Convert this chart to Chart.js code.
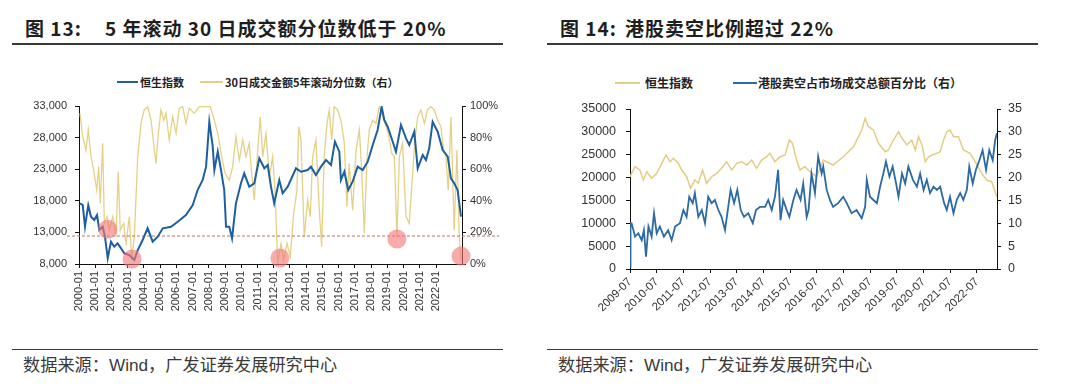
<!DOCTYPE html>
<html>
<head>
<meta charset="utf-8">
<script src="https://cdn.jsdelivr.net/npm/chart.js@4.4.1/dist/chart.umd.min.js"></script>
<style>
  body { margin: 0; width: 1080px; height: 390px; background: #fff; position: relative; overflow: hidden; }
  .abs { position: absolute; white-space: pre; }
  .title { font-family: "Noto Sans CJK SC", sans-serif; font-weight: 700; font-size: 19px; letter-spacing: 1px; color: #1e1e1e; line-height: 22px; }
  .rule { height: 1.5px; background: #3a3a3a; }
  .src { font-family: "Liberation Sans", "Noto Sans CJK SC", sans-serif; font-size: 17.2px; color: #3a3a3a; line-height: 20px; }
  .lg { font-family: "Noto Sans CJK SC", sans-serif; font-size: 11px; color: #222; line-height: 14px; font-weight: 700; }
  .lgline { height: 2px; }
  canvas { position: absolute; }
</style>
</head>
<body>
<div class="abs title" style="left:25px;top:17px"><span>图 13:</span><span style="margin-left:23px">5 年滚动 30 日成交额分位数低于 20%</span></div>
<div class="abs rule" style="left:12px;top:43px;width:491px"></div>
<div class="abs title" style="left:560px;top:17px"><span>图 14:</span><span style="margin-left:8px">港股卖空比例超过 22%</span></div>
<div class="abs rule" style="left:547px;top:43px;width:491px"></div>

<div class="abs lgline" style="left:117px;top:81px;width:21px;background:#1f5f9f"></div>
<div class="abs lg" style="left:140px;top:75px">恒生指数</div>
<div class="abs lgline" style="left:200px;top:81px;width:23px;background:#e5d185"></div>
<div class="abs lg" style="left:225px;top:75px">30日成交金额5年滚动分位数（右）</div>

<div class="abs lgline" style="left:615px;top:82px;width:25px;background:#e3cd84"></div>
<div class="abs lg" style="left:645px;top:76px;font-size:12px">恒生指数</div>
<div class="abs lgline" style="left:733px;top:82px;width:24px;background:#2d6aa3"></div>
<div class="abs lg" style="left:758px;top:76px;font-size:12px">港股卖空占市场成交总额百分比（右）</div>

<canvas id="c13" width="540" height="250" style="left:0;top:90px"></canvas>
<canvas id="c14" width="540" height="250" style="left:540px;top:90px"></canvas>

<div class="abs rule" style="left:12px;top:349px;width:491px;height:1px"></div>
<div class="abs src" style="left:23px;top:355px">数据来源：Wind，广发证券发展研究中心</div>
<div class="abs rule" style="left:547px;top:349px;width:491px;height:1px"></div>
<div class="abs src" style="left:558px;top:355px">数据来源：Wind，广发证券发展研究中心</div>

<script>
// ---- 图13 data ----
const hsiDates13 = [2000.06, 2000.23, 2000.37, 2000.57, 2000.74, 2000.94, 2001.11, 2001.25, 2001.46, 2001.6, 2001.77, 2001.97, 2002.17, 2002.38, 2002.59, 2002.79, 2003.1, 2003.41, 2003.62, 2003.92, 2004.23, 2004.54, 2004.85, 2005.16, 2005.67, 2006.08, 2006.59, 2007.01, 2007.31, 2007.62, 2007.83, 2008.03, 2008.24, 2008.34, 2008.55, 2008.75, 2008.95, 2009.06, 2009.26, 2009.43, 2009.67, 2009.98, 2010.18, 2010.49, 2010.8, 2011.11, 2011.42, 2011.63, 2011.83, 2012.03, 2012.34, 2012.55, 2012.86, 2013.37, 2013.68, 2014.09, 2014.29, 2014.6, 2014.91, 2015.22, 2015.53, 2015.77, 2016.04, 2016.14, 2016.35, 2016.59, 2016.86, 2017.17, 2017.48, 2017.79, 2018.1, 2018.4, 2018.65, 2018.81, 2019.02, 2019.33, 2019.53, 2019.84, 2020.15, 2020.35, 2020.66, 2020.87, 2021.18, 2021.38, 2021.58, 2021.79, 2022.1, 2022.41, 2022.72, 2022.92, 2023.12, 2023.33, 2023.54];
const hsi13 = [17600, 17330, 13900, 17300, 15480, 14960, 15750, 13380, 13900, 12320, 8900, 11530, 10740, 11270, 10480, 9690, 9420, 8630, 10210, 11800, 13650, 11530, 12320, 13650, 13900, 14690, 15750, 17330, 19700, 21290, 23400, 30500, 26560, 22870, 25770, 22870, 19700, 13900, 13900, 12060, 17600, 20770, 22350, 20230, 20770, 24720, 23140, 23660, 20230, 17600, 21290, 19190, 20230, 23140, 22600, 22870, 23400, 22080, 23400, 24450, 23660, 27350, 25770, 21290, 22600, 19700, 21020, 23400, 22870, 24190, 26830, 29200, 32890, 30780, 29720, 27350, 25770, 30000, 27880, 26830, 28930, 23140, 25240, 24450, 26300, 30500, 28930, 26040, 24980, 21560, 20770, 19700, 15480];
const pctDates13 = [2000.06, 2000.23, 2000.43, 2000.57, 2000.74, 2000.9, 2001.09, 2001.21, 2001.31, 2001.46, 2001.56, 2001.73, 2001.87, 2002.08, 2002.28, 2002.42, 2002.54, 2002.75, 2002.9, 2003.1, 2003.25, 2003.41, 2003.62, 2003.82, 2004.02, 2004.23, 2004.44, 2004.6, 2004.74, 2004.89, 2005.05, 2005.22, 2005.36, 2005.56, 2005.77, 2005.98, 2006.18, 2006.39, 2006.59, 2006.8, 2007.1, 2007.41, 2007.82, 2008.09, 2008.34, 2008.55, 2008.75, 2009.0, 2009.26, 2009.47, 2009.67, 2009.88, 2010.09, 2010.29, 2010.49, 2010.64, 2010.8, 2011.01, 2011.17, 2011.32, 2011.52, 2011.73, 2011.93, 2012.08, 2012.24, 2012.45, 2012.61, 2012.82, 2013.02, 2013.23, 2013.43, 2013.54, 2013.68, 2013.88, 2014.09, 2014.25, 2014.4, 2014.6, 2014.81, 2014.95, 2015.11, 2015.28, 2015.42, 2015.57, 2015.73, 2015.94, 2016.14, 2016.35, 2016.51, 2016.65, 2016.86, 2017.07, 2017.27, 2017.42, 2017.58, 2017.75, 2017.89, 2018.1, 2018.3, 2018.5, 2018.65, 2018.85, 2019.06, 2019.27, 2019.43, 2019.59, 2019.74, 2019.94, 2020.15, 2020.35, 2020.56, 2020.7, 2020.87, 2021.07, 2021.28, 2021.48, 2021.69, 2021.89, 2022.1, 2022.3, 2022.47, 2022.61, 2022.75, 2022.92, 2023.12, 2023.29, 2023.43, 2023.54];
const pct13 = [95.4, 80.6, 72, 85, 68, 59.5, 46.8, 61.6, 38.4, 76.4, 25.7, 30, 21.5, 30, 17.3, 58.4, 21.5, 25.7, 13, 30, 2.5, 17.3, 68, 89, 97.5, 99.6, 91, 76.4, 63.7, 82.7, 97.5, 91, 95.4, 78.5, 93.2, 82.7, 98.5, 99.6, 89, 98.5, 95.4, 99.6, 99.6, 99.6, 91, 82.7, 70, 57.4, 53, 61.6, 80.6, 65.8, 78.5, 68, 76.4, 57.4, 40.5, 72, 93.2, 68, 82.7, 55.3, 68, 46.8, 0.5, 13, 2.5, 13, 4.6, 32, 46.8, 86.9, 78.5, 17.3, 40.5, 30, 68, 78.5, 34, 11, 68, 89, 97.5, 78.5, 99.6, 97.5, 91, 76.4, 36.3, 63.7, 34, 72, 85, 59.5, 19.4, 68, 85, 91, 89, 99.6, 95.4, 89, 82.7, 70, 68, 17.3, 68, 76.4, 30, 25.7, 57.4, 78.5, 93.2, 97.5, 89, 97.5, 99.6, 97.5, 91, 86.9, 72, 68, 46.8, 93.2, 21.5, 72, 17.3, 2.5];
const markDates13 = [2001.77, 2003.27, 2012.38, 2019.59, 2023.54];
const markPct13 = [22, 3.2, 3.8, 15.8, 5];
const lineDates13 = [1999.26, 2025.9];
const linePct13 = [17.7, 17.7];
const xTicks13 = [2000, 2001, 2002, 2003, 2004, 2005, 2006, 2007, 2008, 2009, 2010, 2011, 2012, 2013, 2014, 2015, 2016, 2017, 2018, 2019, 2020, 2021, 2022];
const xLabels13 = ['2000-01', '2001-01', '2002-01', '2003-01', '2004-01', '2005-01', '2006-01', '2007-01', '2008-01', '2009-01', '2010-01', '2011-01', '2012-01', '2013-01', '2014-01', '2015-01', '2016-01', '2017-01', '2018-01', '2019-01', '2020-01', '2021-01', '2022-01'];
const yTicks13 = [8000, 13000, 18000, 23000, 28000, 33000];
const y1Ticks13 = [0, 10, 20, 30, 40, 50, 60, 70, 80, 90, 100];

// ---- 图14 data ----
const hsiDates14 = [2009.5, 2009.69, 2009.87, 2010.0, 2010.13, 2010.31, 2010.5, 2010.69, 2010.85, 2011.0, 2011.12, 2011.31, 2011.44, 2011.62, 2011.77, 2011.93, 2012.06, 2012.22, 2012.37, 2012.56, 2012.75, 2012.93, 2013.12, 2013.31, 2013.5, 2013.68, 2013.87, 2014.06, 2014.24, 2014.43, 2014.62, 2014.74, 2014.93, 2015.12, 2015.31, 2015.47, 2015.59, 2015.74, 2015.87, 2016.05, 2016.24, 2016.49, 2016.74, 2017.11, 2017.49, 2017.87, 2018.18, 2018.31, 2018.43, 2018.62, 2018.81, 2019.06, 2019.18, 2019.37, 2019.56, 2019.69, 2019.87, 2020.06, 2020.19, 2020.31, 2020.44, 2020.56, 2020.69, 2020.81, 2021.0, 2021.12, 2021.25, 2021.37, 2021.49, 2021.62, 2021.81, 2021.99, 2022.12, 2022.24, 2022.43, 2022.68, 2022.86, 2023.05, 2023.24];
const hsi14 = [20190, 22380, 21660, 19470, 21290, 19840, 20930, 23120, 24940, 23470, 24220, 23120, 21660, 20190, 17650, 19470, 18750, 21660, 18750, 20190, 20930, 22030, 23470, 21660, 23120, 23470, 22750, 23840, 22030, 23840, 24560, 25310, 23470, 24560, 24940, 28220, 27500, 23840, 21660, 22380, 21290, 20190, 23840, 22750, 24560, 26750, 30410, 32960, 31130, 30410, 27500, 25660, 26030, 28220, 30040, 28590, 27130, 28220, 26030, 28940, 27130, 23470, 24560, 24940, 25310, 25660, 28220, 30040, 30410, 28940, 28940, 26030, 25660, 25310, 23470, 20930, 19470, 19100, 15810];
const shortDates14 = [2009.5, 2009.52, 2009.56, 2009.69, 2009.81, 2009.94, 2010.02, 2010.1, 2010.19, 2010.31, 2010.4, 2010.5, 2010.62, 2010.77, 2010.93, 2011.06, 2011.19, 2011.37, 2011.5, 2011.62, 2011.72, 2011.85, 2011.93, 2012.06, 2012.19, 2012.31, 2012.43, 2012.56, 2012.68, 2012.81, 2012.93, 2013.06, 2013.18, 2013.27, 2013.4, 2013.52, 2013.65, 2013.77, 2013.93, 2014.1, 2014.22, 2014.37, 2014.56, 2014.68, 2014.81, 2014.93, 2015.05, 2015.14, 2015.24, 2015.37, 2015.47, 2015.62, 2015.74, 2015.89, 2015.99, 2016.12, 2016.19, 2016.3, 2016.43, 2016.55, 2016.68, 2016.74, 2016.87, 2016.99, 2017.11, 2017.3, 2017.49, 2017.62, 2017.8, 2017.99, 2018.18, 2018.31, 2018.37, 2018.49, 2018.62, 2018.75, 2018.87, 2018.99, 2019.09, 2019.22, 2019.34, 2019.47, 2019.56, 2019.69, 2019.81, 2019.93, 2020.1, 2020.25, 2020.37, 2020.5, 2020.62, 2020.74, 2020.87, 2021.0, 2021.12, 2021.27, 2021.37, 2021.49, 2021.62, 2021.74, 2021.87, 2021.99, 2022.12, 2022.21, 2022.34, 2022.46, 2022.59, 2022.71, 2022.84, 2022.96, 2023.09, 2023.18, 2023.25];
const short14 = [0.5, 10, 10, 7.1, 7.8, 6.3, 8.5, 2.7, 9.3, 7.1, 12.2, 7.8, 9.3, 7.1, 8.5, 6.3, 9.3, 10, 12.9, 11.4, 15.8, 14.4, 16.6, 11.4, 12.9, 10, 15.8, 14.4, 15.1, 12.9, 11.4, 8.5, 13.6, 17.3, 14.4, 17.3, 12.9, 11.4, 12.2, 10, 12.9, 13.6, 13.6, 15.1, 12.9, 15.8, 21.7, 10.7, 15.1, 12.9, 11.4, 15.1, 17.3, 15.1, 18.7, 11.4, 12.9, 20.9, 16.6, 24.6, 20.9, 22.4, 17.3, 15.1, 13.6, 14.4, 15.8, 14.4, 12.2, 12.9, 11.1, 13.6, 19.5, 15.8, 15.1, 14.4, 18, 20.9, 23.5, 20.2, 22.4, 18.7, 15.8, 20.9, 18.7, 22.4, 19.5, 18, 20.9, 17.3, 19.5, 16.6, 18, 17.3, 18, 14.4, 12.9, 15.8, 12.2, 15.1, 16.6, 15.1, 17.3, 22.4, 18.7, 21.7, 23.8, 26, 21.7, 26, 23.8, 28.2, 29.7];
const xTicks14 = [2009.5, 2010.5, 2011.5, 2012.5, 2013.5, 2014.5, 2015.5, 2016.5, 2017.5, 2018.5, 2019.5, 2020.5, 2021.5, 2022.5];
const xLabels14 = ['2009-07', '2010-07', '2011-07', '2012-07', '2013-07', '2014-07', '2015-07', '2016-07', '2017-07', '2018-07', '2019-07', '2020-07', '2021-07', '2022-07'];
const yTicks14 = [0, 5000, 10000, 15000, 20000, 25000, 30000, 35000];
const y1Ticks14 = [0, 5, 10, 15, 20, 25, 30, 35];

const FONT = 'Liberation Sans, Arial, sans-serif';
const pts = (xs, ys) => xs.map((x, i) => ({x: x, y: ys[i]}));
const fixTicks = arr => s => { s.ticks = arr.map(v => ({value: v})); };
const axisGrid = {drawOnChartArea: false, drawTicks: true, tickLength: 4, color: '#111', lineWidth: 1};
const axisBorder = {display: true, color: '#111', width: 1};

Chart.defaults.animation = false;
Chart.defaults.font.family = FONT;

new Chart(document.getElementById('c13'), {
    type: 'line',
    data: {
        datasets: [
            {
                data: pts(markDates13, markPct13), yAxisID: 'y1', showLine: false,
                pointRadius: 9.5, pointBackgroundColor: 'rgba(242,120,120,0.62)', pointBorderWidth: 0,
                clip: false, order: 0
            },
            {
                data: pts(hsiDates13, hsi13), yAxisID: 'y', borderColor: '#1f5f9f', borderWidth: 2,
                pointRadius: 0, tension: 0, order: 1
            },
            {
                data: pts(lineDates13, linePct13), yAxisID: 'y1', borderColor: '#c0706a', borderWidth: 1,
                borderDash: [3, 2], pointRadius: 0, clip: false, order: 2
            },
            {
                data: pts(pctDates13, pct13), yAxisID: 'y1', borderColor: '#e5d185', borderWidth: 1.3,
                pointRadius: 0, tension: 0, order: 3
            }
        ]
    },
    options: {
        responsive: false,
        layout: {padding: {left: 19, right: 28, top: 16, bottom: 0}},
        plugins: {legend: {display: false}, tooltip: {enabled: false}},
        scales: {
            x: {
                type: 'linear', min: 2000, max: 2023.6,
                afterBuildTicks: fixTicks(xTicks13),
                afterFit: s => { s.height = 76; },
                ticks: {autoSkip: false, minRotation: 90, maxRotation: 90, padding: 3, color: '#333',
                        font: {size: 11}, callback: (v, i) => xLabels13[i]},
                grid: axisGrid, border: axisBorder
            },
            y: {
                position: 'left', min: 8000, max: 33000,
                afterBuildTicks: fixTicks(yTicks13),
                afterFit: s => { s.width = 60; },
                ticks: {padding: 8, color: '#333', font: {size: 11}, callback: v => v.toLocaleString('en-US')},
                grid: axisGrid, border: axisBorder
            },
            y1: {
                position: 'right', min: 0, max: 100,
                afterBuildTicks: fixTicks(y1Ticks13),
                afterFit: s => { s.width = 50; },
                ticks: {padding: 4, color: '#333', font: {size: 11}, callback: v => v + '%'},
                grid: axisGrid, border: axisBorder
            }
        }
    }
});

new Chart(document.getElementById('c14'), {
    type: 'line',
    data: {
        datasets: [
            {
                data: pts(shortDates14, short14), yAxisID: 'y1', borderColor: '#2d6aa3', borderWidth: 1.8,
                pointRadius: 0, tension: 0, order: 0
            },
            {
                data: pts(hsiDates14, hsi14), yAxisID: 'y', borderColor: '#e3cd84', borderWidth: 1.5,
                pointRadius: 0, tension: 0, order: 1
            }
        ]
    },
    options: {
        responsive: false,
        layout: {padding: {left: 30, right: 43, top: 19, bottom: 0}},
        plugins: {legend: {display: false}, tooltip: {enabled: false}},
        scales: {
            x: {
                type: 'linear', min: 2009.5, max: 2023.25,
                afterBuildTicks: fixTicks(xTicks14),
                afterFit: s => { s.height = 71; },
                ticks: {autoSkip: false, minRotation: 45, maxRotation: 45, padding: 2, color: '#333',
                        font: {size: 11.5}, callback: (v, i) => xLabels14[i]},
                grid: axisGrid, border: axisBorder
            },
            y: {
                position: 'left', min: 0, max: 35000,
                afterBuildTicks: fixTicks(yTicks14),
                afterFit: s => { s.width = 60; },
                ticks: {padding: 10, color: '#333', font: {size: 12.5}, callback: v => String(v)},
                grid: axisGrid, border: axisBorder
            },
            y1: {
                position: 'right', min: 0, max: 35,
                afterBuildTicks: fixTicks(y1Ticks14),
                afterFit: s => { s.width = 40; },
                ticks: {padding: 7, color: '#333', font: {size: 12.5}, callback: v => String(v)},
                grid: axisGrid, border: axisBorder
            }
        }
    }
});
</script>
</body>
</html>
